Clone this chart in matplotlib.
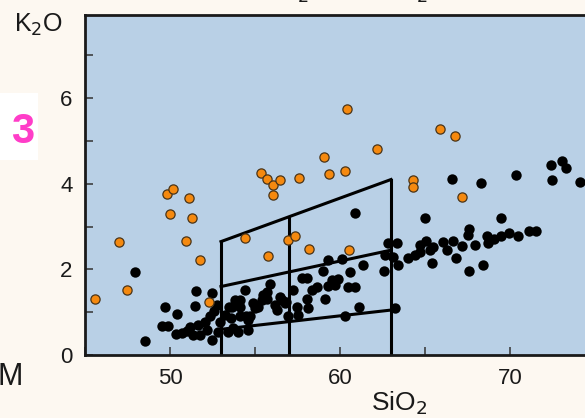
import matplotlib
matplotlib.use("Agg")
import matplotlib.pyplot as plt
from matplotlib.ticker import MultipleLocator
from matplotlib.patches import Rectangle

plt.rcParams['font.family'] = ['Liberation Sans', 'DejaVu Sans']

# orange samples (SiO2, K2O)
orange_x = [47.02, 49.8, 50.18, 51.12, 50.0, 51.29, 50.92, 55.35, 55.69, 56.08,
            56.49, 56.06, 57.59, 59.06, 59.35, 60.29, 60.43, 62.16, 64.31, 64.31,
            65.88, 54.43, 56.92, 57.35, 66.76, 67.16, 58.2, 60.53, 45.59, 47.45,
            51.78, 52.31, 55.75]
orange_y = [2.65, 3.75, 3.88, 3.67, 3.29, 3.19, 2.67, 4.25, 4.11, 3.98,
            4.09, 3.73, 4.13, 4.62, 4.22, 4.31, 5.74, 4.81, 4.09, 3.93,
            5.28, 2.74, 2.69, 2.79, 5.12, 3.70, 2.48, 2.45, 1.31, 1.53,
            2.22, 1.25, 2.32]

# black samples (SiO2, K2O)
black_x = [66.57, 68.27, 70.35, 72.43, 73.06, 73.27, 72.47, 74.1, 64.98, 69.49,
           67.57, 67.51, 68.63, 69.06, 69.5, 69.96, 70.47, 71.1, 71.53, 68.69,
           67.96, 67.16, 66.67, 66.04, 66.27, 65.06, 65.49, 64.7, 66.82, 65.39,
           67.6, 68.43,
           60.88, 62.84, 63.33, 62.65, 63.14, 62.59, 63.43, 64.02, 64.41, 64.71,
           65.29, 59.31, 60.1, 61.37, 58.98, 60.59, 57.75, 58.04, 59.51, 59.9,
           59.7, 59.31, 60.49, 60.88, 58.63, 58.33, 57.25, 59.12, 58.04, 56.57,
           56.82, 57.45, 58.14, 61.14, 63.24, 56.96, 57.55, 60.29,
           47.94, 48.53, 49.71, 50.39, 51.53, 52.45, 51.47, 49.51, 49.9, 50.35,
           50.69, 50.98, 51.18, 51.37, 51.67, 51.76, 52.06, 52.16, 52.45, 52.35,
           52.59, 52.84, 52.75, 52.94, 53.24, 53.49, 53.57, 53.82, 54.12, 54.12,
           54.41, 54.47, 54.61, 54.86, 55.2, 55.49, 55.69, 55.88, 56.18, 56.27,
           56.47, 54.12, 53.73, 55.69, 55.39, 55.0, 54.7, 54.6, 54.02, 53.43,
           53.63, 56.76]
black_y = [4.12, 4.03, 4.21, 4.44, 4.53, 4.38, 4.09, 4.04, 3.19, 3.21,
           2.95, 2.81, 2.77, 2.70, 2.79, 2.84, 2.79, 2.89, 2.90, 2.62,
           2.57, 2.55, 2.67, 2.64, 2.45, 2.67, 2.52, 2.57, 2.27, 2.14,
           1.97, 2.10,
           3.31, 2.62, 2.62, 2.34, 2.30, 1.97, 2.10, 2.26, 2.34, 2.41,
           2.45, 2.22, 2.24, 2.11, 1.97, 1.93, 1.79, 1.81, 1.75, 1.78,
           1.64, 1.61, 1.58, 1.58, 1.58, 1.52, 1.52, 1.32, 1.32, 1.28,
           1.25, 1.13, 1.09, 1.11, 1.09, 0.90, 0.93, 0.92,
           1.93, 0.33, 1.13, 0.95, 1.50, 1.44, 1.14, 0.68, 0.68, 0.48,
           0.51, 0.56, 0.66, 0.47, 0.70, 0.47, 0.78, 0.58, 0.35, 0.90,
           1.03, 0.54, 1.17, 0.78, 0.93, 1.11, 0.86, 1.29, 1.13, 0.90,
           1.52, 0.92, 0.82, 1.21, 1.13, 1.40, 1.32, 1.65, 1.17, 1.05,
           1.36, 1.29, 0.62, 1.48, 1.29, 1.09, 0.90, 0.58, 0.54, 0.54,
           1.13, 1.21]

# field boundaries
bound_x = [53, 57, 63]
top_y = [2.65, 3.23, 4.1]
mid_y = [1.6, 1.94, 2.45]
low_y = [0.6, 0.78, 1.05]

W, H = 585, 418
fig = plt.figure(figsize=(W / 100, H / 100), dpi=100)
fig.patch.set_facecolor('#fdf8f1')

# axes placed in pixels; right side runs off the picture
ax = fig.add_axes([85 / W, (H - 355) / H, 629 / W, 340 / H])
ax.set_facecolor('#b9d0e6')
ax.set_xlim(45, 82)
ax.set_ylim(0, 340 / 42.8)

# boundary lines
lw = 2.2
ax.plot(bound_x, top_y, color='black', lw=lw)
ax.plot(bound_x, mid_y, color='black', lw=lw)
ax.plot(bound_x, low_y, color='black', lw=lw)
for bx, ty in zip(bound_x, top_y):
    ax.plot([bx, bx], [0, ty], color='black', lw=lw)

ax.scatter(black_x, black_y, s=56, color='black', zorder=3, linewidths=0)
ax.scatter(orange_x, orange_y, s=44, color='#f5890f', edgecolors='#4a3418',
           linewidths=0.9, zorder=4)

ax.xaxis.set_major_locator(MultipleLocator(10))
ax.xaxis.set_minor_locator(MultipleLocator(5))
ax.yaxis.set_major_locator(MultipleLocator(2))
ax.yaxis.set_minor_locator(MultipleLocator(1))
ax.tick_params(which='both', direction='in', length=6, width=1.1,
               color='#333333', labelsize=16, pad=9, labelcolor='#1a1a1a')

for side in ['left', 'bottom', 'top']:
    ax.spines[side].set_linewidth(2)
    ax.spines[side].set_color('#1a1a1a')
ax.spines['right'].set_visible(False)

ax.set_xlabel('SiO$_2$', fontsize=19, labelpad=1, color='#1a1a1a')
fig.text(14 / W, 1 - 25 / H, 'K$_2$O', fontsize=18, ha='left', va='center',
         color='#1a1a1a')

# bits of neighbouring panels that show in the crop
fig.patches.append(Rectangle((0, 1 - 160 / H), 38 / W, 67 / H,
                             transform=fig.transFigure, facecolor='white',
                             edgecolor='none', zorder=0))
fig.text(11 / W, 1 - 132 / H, '3', fontsize=30, fontweight='bold',
         color='#ff3dc8', ha='left', va='center')
fig.text(-3 / W, 1 - 377 / H, 'M', fontsize=22, ha='left', va='center',
         color='#1a1a1a')
fig.text(428 / W, 1 + 1 / H, 'K$_2$O vs. SiO$_2$', fontsize=18, ha='right',
         va='baseline', color='#1a1a1a')

fig.savefig('out.png', dpi=100, facecolor=fig.get_facecolor())
